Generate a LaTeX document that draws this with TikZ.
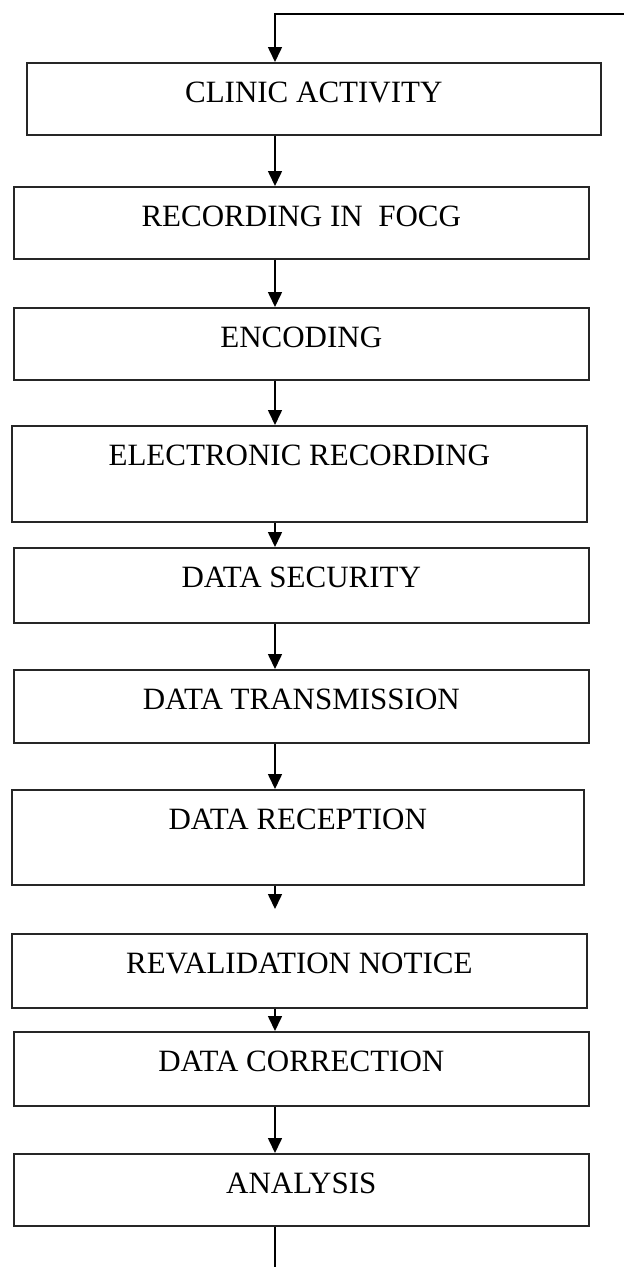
\documentclass[tikz,border=0pt]{standalone}
\usepackage{fontspec}
\setmainfont{Liberation Serif}
\usetikzlibrary{arrows.meta}
\tikzset{
  stepbox/.style={draw=black!85, line width=1.6pt, inner xsep=0pt, inner ysep=0pt,
    text height=40pt, anchor=north west, font=\fontsize{31}{36}\selectfont},
  arr/.style={draw=black, line width=1.6pt, -{Triangle[length=15pt,width=14pt]}},
  plain/.style={draw=black, line width=1.6pt}
}
\begin{document}
\begin{tikzpicture}[x=1pt,y=-1pt]
\useasboundingbox (0,0) rectangle (624,1267);
\coordinate (spine) at (275,0);
\coordinate (topR) at (626,14);
\node[stepbox, minimum width=574pt, text depth=32pt] (b1) at (26,62) {CLINIC ACTIVITY};
\node[stepbox, minimum width=575pt, text depth=32pt] (b2) at (13,186) {RECORDING IN\ \ FOCG};
\node[stepbox, minimum width=575pt, text depth=32pt] (b3) at (13,307) {ENCODING};
\node[stepbox, minimum width=575pt, text depth=56pt] (b4) at (11,425) {ELECTRONIC RECORDING};
\node[stepbox, minimum width=575pt, text depth=35pt] (b5) at (13,547) {DATA SECURITY};
\node[stepbox, minimum width=575pt, text depth=33pt] (b6) at (13,669) {DATA TRANSMISSION};
\node[stepbox, minimum width=572pt, text depth=55pt] (b7) at (11,789) {DATA RECEPTION};
\node[stepbox, minimum width=575pt, text depth=34pt] (b8) at (11,933) {REVALIDATION NOTICE};
\node[stepbox, minimum width=575pt, text depth=34pt] (b9) at (13,1031) {DATA CORRECTION};
\node[stepbox, minimum width=575pt, text depth=32pt] (b10) at (13,1153) {ANALYSIS};
\coordinate (gap) at (275,909);
\coordinate (botEnd) at (275,1270);
\draw[arr] (topR) -- (topR -| spine) -- (b1.north -| spine);
\draw[arr] (b1.south -| spine) -- (b2.north -| spine);
\draw[arr] (b2.south -| spine) -- (b3.north -| spine);
\draw[arr] (b3.south -| spine) -- (b4.north -| spine);
\draw[arr] (b4.south -| spine) -- (b5.north -| spine);
\draw[arr] (b5.south -| spine) -- (b6.north -| spine);
\draw[arr] (b6.south -| spine) -- (b7.north -| spine);
\draw[arr] (b7.south -| spine) -- (gap);
\draw[arr] (b8.south -| spine) -- (b9.north -| spine);
\draw[arr] (b9.south -| spine) -- (b10.north -| spine);
\draw[plain] (b10.south -| spine) -- (botEnd);
\end{tikzpicture}
\end{document}
